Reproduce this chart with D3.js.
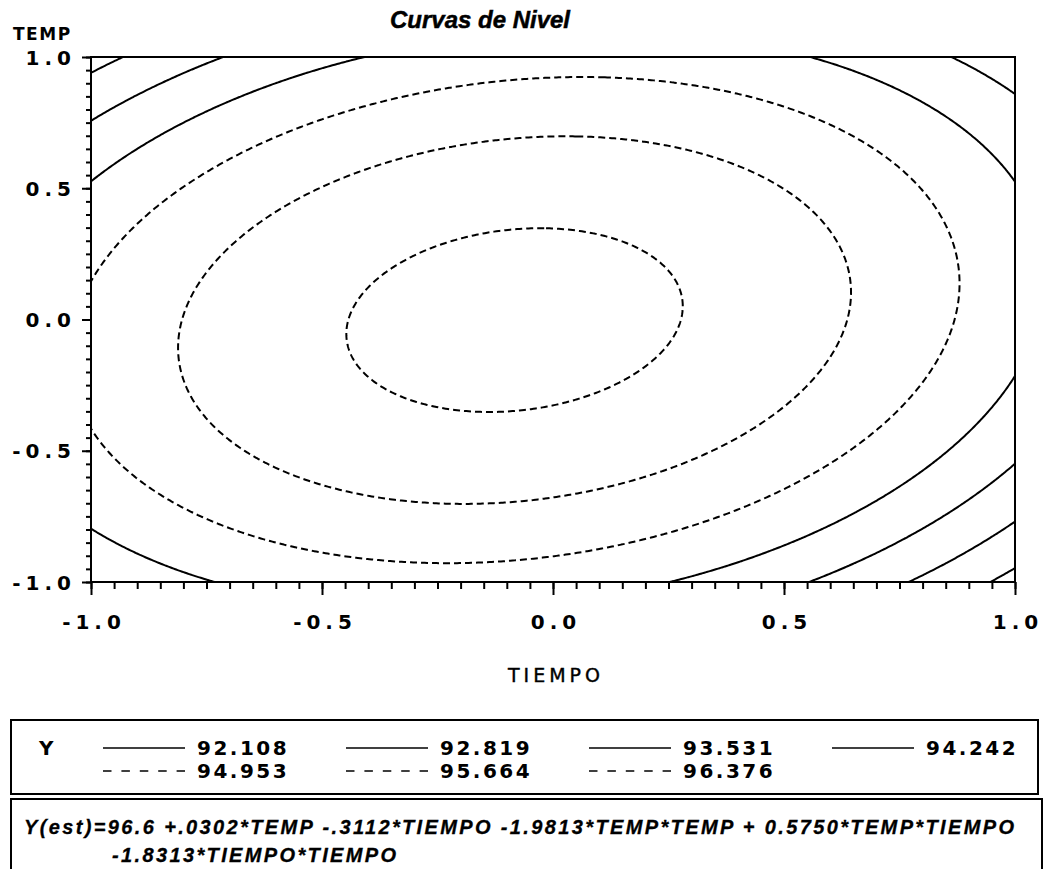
<!DOCTYPE html>
<html>
<head>
<meta charset="utf-8">
<script src="https://cdn.jsdelivr.net/npm/d3@7"></script>
<style>
  body { margin: 0; background: #fff; }
  svg { display: block; }
  .tick-label { font-family: "DejaVu Sans", sans-serif; font-weight: bold; font-size: 20px; letter-spacing: 5px; fill: #000; }
  .legend-label { font-family: "DejaVu Sans", sans-serif; font-weight: bold; font-size: 20px; letter-spacing: 2.5px; fill: #000; }
  .eq { font-family: "Liberation Sans", Arial, sans-serif; font-weight: bold; font-style: italic; font-size: 20px; fill: #000; stroke: #000; stroke-width: 0.3px; }
</style>
</head>
<body>
<svg id="chart" width="1044" height="869"></svg>
<script>
// Fitted second-order model for Y in coded units of TEMP and TIEMPO
const termNames  = ["1", "TEMP", "TIEMPO", "TEMP*TEMP", "TEMP*TIEMPO", "TIEMPO*TIEMPO"];
const termCoefs  = [96.6, 0.0302, -0.3112, -1.9813, 0.5750, -1.8313];

// Contour levels and their line style
const levels     = [92.108, 92.819, 93.531, 94.242, 94.953, 95.664, 96.376];
const levelStyle = ["solid", "solid", "solid", "solid", "dashed", "dashed", "dashed"];
const levelText  = ["92.108", "92.819", "93.531", "94.242", "94.953", "95.664", "96.376"];

// Axis ticks
const xMajorTicks  = [-1.0, -0.5, 0.0, 0.5, 1.0];
const xTickLabels  = ["-1.0", "-0.5", "0.0", "0.5", "1.0"];
const yMajorTicks  = [-1.0, -0.5, 0.0, 0.5, 1.0];
const yTickLabels  = ["-1.0", "-0.5", "0.0", "0.5", "1.0"];
const minorStep    = 0.05;

const title      = "Curvas de Nivel";
const xTitle     = "TIEMPO";
const yTitle     = "TEMP";
const eqLine1    = "Y(est)=96.6 +.0302*TEMP -.3112*TIEMPO -1.9813*TEMP*TEMP + 0.5750*TEMP*TIEMPO";
const eqLine2    = "-1.8313*TIEMPO*TIEMPO";

const svg = d3.select("#chart");
const plot = { left: 91, right: 1015, top: 57, bottom: 582 };

const x = d3.scaleLinear().domain([-1, 1]).range([plot.left, plot.right]);
const y = d3.scaleLinear().domain([-1, 1]).range([plot.bottom, plot.top]);

// Evaluate the model on a grid a little wider than the plot so that
// contour rings close outside the frame and get clipped away.
function model(temp, tiempo) {
  const t = [1, temp, tiempo, temp * temp, temp * tiempo, tiempo * tiempo];
  return d3.sum(t, (v, i) => v * termCoefs[i]);
}
const g0 = -1.05, gStep = 0.005;
const gN = Math.round((1.05 - g0) / gStep) + 1;
const grid = new Float64Array(gN * gN);
for (let j = 0; j < gN; j++) {
  for (let i = 0; i < gN; i++) {
    grid[j * gN + i] = model(g0 + j * gStep, g0 + i * gStep);
  }
}
const contours = d3.contours().size([gN, gN]).smooth(true).thresholds(levels)(grid);

const toScreen = d3.geoTransform({
  point(px, py) { this.stream.point(x(g0 + px * gStep), y(g0 + py * gStep)); }
});
const path = d3.geoPath(toScreen);

svg.append("clipPath").attr("id", "plot-clip")
  .append("rect")
  .attr("x", plot.left).attr("y", plot.top)
  .attr("width", plot.right - plot.left).attr("height", plot.bottom - plot.top);

svg.append("g").attr("clip-path", "url(#plot-clip)")
  .selectAll("path")
  .data(contours)
  .join("path")
  .attr("d", path)
  .attr("fill", "none")
  .attr("stroke", "#000")
  .attr("stroke-width", 2)
  .attr("stroke-dasharray", d => levelStyle[levels.indexOf(d.value)] === "dashed" ? "7,4" : null);

// Frame
svg.append("rect")
  .attr("x", plot.left).attr("y", plot.top)
  .attr("width", plot.right - plot.left).attr("height", plot.bottom - plot.top)
  .attr("fill", "none").attr("stroke", "#000").attr("stroke-width", 2);

// Minor and major ticks
const minorTicks = d3.range(Math.round(2 / minorStep) + 1).map(k => -1 + k * minorStep);

const xMinor = svg.append("g").attr("transform", `translate(0,${plot.bottom})`)
  .call(d3.axisBottom(x).tickValues(minorTicks).tickSize(7).tickFormat(""));
const xMajor = svg.append("g").attr("transform", `translate(0,${plot.bottom})`)
  .call(d3.axisBottom(x).tickValues(xMajorTicks).tickSize(13).tickPadding(17)
        .tickFormat((d, i) => xTickLabels[i]));
const yMinor = svg.append("g").attr("transform", `translate(${plot.left},0)`)
  .call(d3.axisLeft(y).tickValues(minorTicks).tickSize(5).tickFormat(""));
const yMajor = svg.append("g").attr("transform", `translate(${plot.left},0)`)
  .call(d3.axisLeft(y).tickValues(yMajorTicks).tickSize(9).tickPadding(14)
        .tickFormat((d, i) => yTickLabels[i]));

[xMinor, xMajor, yMinor, yMajor].forEach(g => {
  g.attr("font-size", null).attr("font-family", null);
  g.select(".domain").remove();
  g.selectAll(".tick line").attr("stroke", "#000").attr("stroke-width", 2);
});
xMajor.selectAll(".tick text").attr("class", "tick-label").attr("dx", 2.5).attr("dy", "0.85em");
yMajor.selectAll(".tick text").attr("class", "tick-label").attr("dx", 8).attr("dy", "0.36em");

// Titles
svg.append("text")
  .attr("x", 480).attr("y", 28).attr("text-anchor", "middle")
  .style("font-family", "'Liberation Sans', Arial, sans-serif")
  .style("font-weight", "bold").style("font-style", "italic").style("font-size", "24px")
  .attr("stroke", "#000").attr("stroke-width", 0.5)
  .text(title);

svg.append("text")
  .attr("x", 13).attr("y", 40)
  .style("font-family", "'DejaVu Sans', sans-serif").style("font-weight", "bold")
  .style("font-size", "17px").style("letter-spacing", "1.5px")
  .text(yTitle);

svg.append("text")
  .attr("x", 556).attr("y", 682).attr("text-anchor", "middle")
  .style("font-family", "'DejaVu Sans', sans-serif")
  .style("font-size", "19px").style("letter-spacing", "4px")
  .attr("stroke", "#000").attr("stroke-width", 0.4)
  .text(xTitle);

// Legend box
const legend = { x: 11, y: 720, w: 1027, h: 74 };
svg.append("rect")
  .attr("x", legend.x).attr("y", legend.y).attr("width", legend.w).attr("height", legend.h)
  .attr("fill", "none").attr("stroke", "#000").attr("stroke-width", 2);

svg.append("text").attr("class", "legend-label")
  .attr("x", 39).attr("y", 755).text("Y");

const colX = [103, 346, 589, 832];
const rowY = [748, 771];
const legendItems = levels.map((v, i) => ({
  style: levelStyle[i], text: levelText[i],
  col: i % 4, row: Math.floor(i / 4)
}));
const items = svg.append("g").selectAll("g").data(legendItems).join("g")
  .attr("transform", d => `translate(${colX[d.col]},${rowY[d.row]})`);
items.append("line")
  .attr("x1", 0).attr("x2", 82).attr("y1", 0).attr("y2", 0)
  .attr("stroke", "#000").attr("stroke-width", 1.6)
  .attr("stroke-dasharray", d => d.style === "dashed" ? "8.5,9.9" : null);
items.append("text").attr("class", "legend-label")
  .attr("x", 94).attr("y", 7).text(d => d.text);

// Equation box
svg.append("rect")
  .attr("x", 11).attr("y", 799).attr("width", 1031).attr("height", 90)
  .attr("fill", "none").attr("stroke", "#000").attr("stroke-width", 2);

const eq1 = svg.append("text").attr("class", "eq").attr("x", 24).attr("y", 834).text(eqLine1);
const eq2 = svg.append("text").attr("class", "eq").attr("x", 112).attr("y", 862).text(eqLine2);

// Spread the first line to the box width and give the second the same spacing
const targetWidth = 990;
const natural = eq1.node().getComputedTextLength();
const spacing = Math.max(0, (targetWidth - natural) / (eqLine1.length - 1));
eq1.style("letter-spacing", spacing + "px");
eq2.style("letter-spacing", spacing + "px");
</script>
</body>
</html>
